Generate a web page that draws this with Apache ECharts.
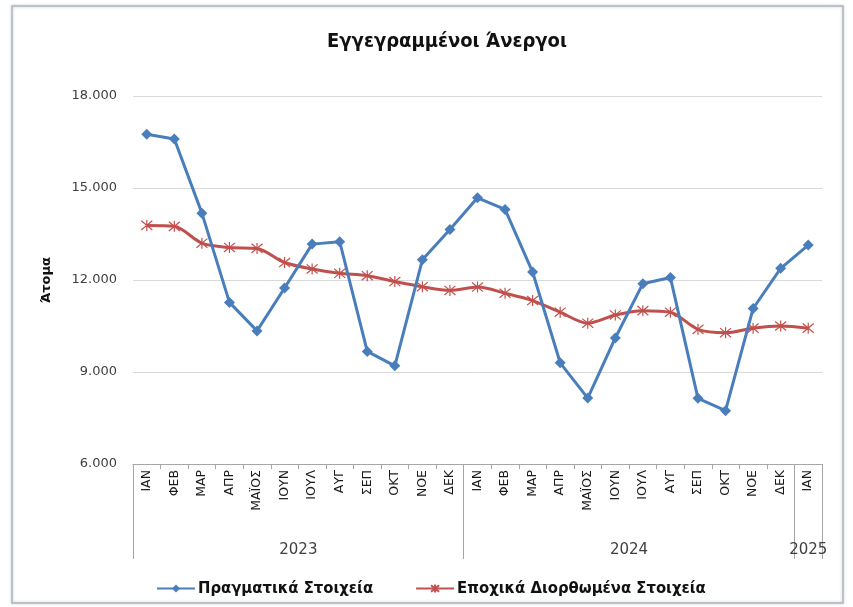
<!DOCTYPE html>
<html>
<head>
<meta charset="utf-8">
<script src="https://cdn.jsdelivr.net/npm/echarts@6/dist/echarts.min.js"></script>
<style>
  html, body { margin: 0; padding: 0; background: #fff; }
  #chart { width: 853px; height: 607px; }
</style>
</head>
<body>
<div id="chart"></div>
<script>
// month labels, Jan 2023 .. Jan 2025
const months = ['ΙΑΝ','ΦΕΒ','ΜΑΡ','ΑΠΡ','ΜΑΪΟΣ','ΙΟΥΝ','ΙΟΥΛ','ΑΥΓ','ΣΕΠ','ΟΚΤ','ΝΟΕ','ΔΕΚ',
                'ΙΑΝ','ΦΕΒ','ΜΑΡ','ΑΠΡ','ΜΑΪΟΣ','ΙΟΥΝ','ΙΟΥΛ','ΑΥΓ','ΣΕΠ','ΟΚΤ','ΝΟΕ','ΔΕΚ',
                'ΙΑΝ'];
const years = ['2023', '2024', '2025'];
const monthsPerYear = [12, 12, 1];

const actual = [16750, 16600, 14180, 11270, 10340, 11740, 13170, 13250, 9670, 9200, 12660, 13650,
                14680, 14300, 12260, 9300, 8150, 10110, 11880, 12080, 8140, 7740, 11070, 12380,
                13140];
const seasonal = [13780, 13750, 13200, 13060, 13030, 12570, 12360, 12220, 12140, 11950, 11780, 11660,
                  11770, 11570, 11330, 10950, 10590, 10860, 11000, 10950, 10390, 10280, 10430, 10500,
                  10430];

const yTicks = [6000, 9000, 12000, 15000, 18000];

// helper axis at half-month steps, used to draw year groups
let halfSteps = [];
let yearEdges = [0];
let yearCenters = {};
let pos = 0;
for (let i = 0; i < years.length; i++) {
    yearCenters[pos + monthsPerYear[i]] = years[i];
    pos += monthsPerYear[i] * 2;
    yearEdges.push(pos);
}
for (let i = 0; i <= months.length * 2; i++) {
    halfSteps.push(yearCenters[i] || '');
}

function fmt(v) {
    return String(v).replace(/\B(?=(\d{3})+(?!\d))/g, '.');
}

let dom = document.getElementById('chart');
let myChart = echarts.init(dom, null, { renderer: 'canvas' });

const starPath = 'path://M0,0L10,10M10,0L0,10M5,-1L5,11';

let option = {
    animation: false,
    backgroundColor: '#fff',
    title: {
        text: 'Εγγεγραμμένοι Άνεργοι',
        left: 442,
        textAlign: 'center',
        top: 27,
        textStyle: {
            fontFamily: 'DejaVu Sans Condensed',
            fontWeight: 'bold',
            fontSize: 20,
            color: '#111'
        }
    },
    graphic: [{
        type: 'rect',
        shape: { x: 12, y: 6, width: 831, height: 597 },
        style: { fill: 'none', stroke: '#aeb7c4', lineWidth: 1.5, shadowBlur: 3, shadowColor: 'rgba(0,0,0,0.25)' },
        silent: true,
        z: -1
    }],
    legend: {
        left: 151,
        top: 575,
        itemWidth: 38,
        itemHeight: 10,
        itemGap: 42,
        textStyle: {
            fontFamily: 'DejaVu Sans Condensed',
            fontWeight: 'bold',
            fontSize: 16.5,
            color: '#111',
            padding: [0, 0, 0, -2]
        },
        data: ['Πραγματικά Στοιχεία', 'Εποχικά Διορθωμένα Στοιχεία']
    },
    grid: {
        left: 133,
        right: 31,
        top: 96,
        bottom: 143,
        containLabel: false
    },
    xAxis: [{
        type: 'category',
        data: months,
        boundaryGap: true,
        axisLine: { lineStyle: { color: '#a6a6a6', width: 1 } },
        axisTick: { show: true, length: 5, lineStyle: { color: '#a6a6a6' } },
        axisLabel: {
            rotate: 90,
            interval: 0,
            margin: 6,
            fontFamily: 'DejaVu Sans',
            fontSize: 12.5,
            color: '#1a1a1a'
        }
    }, {
        type: 'category',
        data: halfSteps,
        boundaryGap: false,
        position: 'bottom',
        axisLine: { show: false },
        axisTick: {
            show: true,
            length: 95,
            interval: function (idx) { return yearEdges.indexOf(idx) >= 0; },
            lineStyle: { color: '#a6a6a6' }
        },
        axisLabel: {
            interval: function (idx, val) { return val !== ''; },
            margin: 79,
            fontFamily: 'DejaVu Sans',
            fontSize: 15,
            color: '#404040'
        }
    }],
    yAxis: {
        type: 'value',
        min: yTicks[0],
        max: yTicks[yTicks.length - 1],
        interval: yTicks[1] - yTicks[0],
        name: 'Άτομα',
        nameLocation: 'middle',
        nameGap: 80,
        nameTextStyle: {
            fontFamily: 'DejaVu Sans',
            fontWeight: 'bold',
            fontSize: 13,
            color: '#111'
        },
        axisLine: { show: false },
        axisTick: { show: false },
        splitLine: { lineStyle: { color: '#d9d9d9' } },
        axisLabel: {
            margin: 16,
            formatter: fmt,
            fontFamily: 'DejaVu Sans',
            fontSize: 13,
            color: '#404040'
        }
    },
    series: [{
        name: 'Πραγματικά Στοιχεία',
        type: 'line',
        data: actual,
        symbol: 'diamond',
        symbolSize: 11,
        lineStyle: { color: '#4a7ebb', width: 3 },
        itemStyle: { color: '#4a7ebb' },
        z: 3
    }, {
        name: 'Εποχικά Διορθωμένα Στοιχεία',
        type: 'line',
        data: seasonal,
        smooth: 0.3,
        symbol: starPath,
        symbolSize: 11,
        lineStyle: { color: '#c0504d', width: 3 },
        itemStyle: { color: '#c0504d', borderColor: '#c0504d', borderWidth: 1.2 },
        z: 2
    }]
};

myChart.setOption(option);
window.addEventListener('resize', myChart.resize);
</script>
</body>
</html>
